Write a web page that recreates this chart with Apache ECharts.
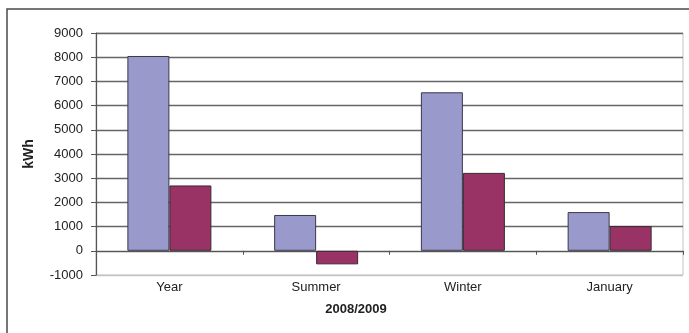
<!DOCTYPE html>
<html><head><meta charset="utf-8">
<script src="https://cdn.jsdelivr.net/npm/echarts@6/dist/echarts.min.js"></script>
<style>html,body{margin:0;padding:0;background:#fff}#c{width:689px;height:333px}</style>
</head><body><div id="c"></div>
<script>
var categories = ['Year', 'Summer', 'Winter', 'January'];
var seriesA = [8050, 1480, 6550, 1600];
var seriesB = [2700, -560, 3220, 1020];
var yTicks = { min: -1000, max: 9000, interval: 1000 };
var xAxisName = '2008/2009';
var yAxisName = 'kWh';

var chart = echarts.init(document.getElementById('c'), null, { renderer: 'canvas' });
var gridColors = ['#c4c4c4'];
for (var i = 0; i < 10; i++) gridColors.push('#666666');
chart.setOption({
  animation: false,
  textStyle: { fontFamily: 'Liberation Sans, Arial, sans-serif' },
  graphic: [{
    type: 'rect', shape: { x: 7, y: 9, width: 700, height: 340 },
    style: { fill: 'none', stroke: '#4a4a4a', lineWidth: 1.5 }, z: -1
  }],
  grid: { left: 96, right: 6, top: 33, bottom: 58, show: true, borderColor: '#c4c4c4', borderWidth: 1,
          containLabel: false, outerBoundsMode: 'none' },
  xAxis: {
    type: 'category', data: categories,
    axisLine: { onZero: true, lineStyle: { color: '#555', width: 1.2 } },
    axisTick: { show: true, length: 4, lineStyle: { color: '#555' } },
    axisLabel: { margin: 6, fontSize: 13, color: '#222' },
    name: xAxisName, nameLocation: 'middle', nameGap: 28,
    nameTextStyle: { fontWeight: 'bold', fontSize: 13, color: '#222', padding: [0, 67, 0, 0] }
  },
  yAxis: {
    type: 'value', min: yTicks.min, max: yTicks.max, interval: yTicks.interval,
    axisLine: { show: true, lineStyle: { color: '#555', width: 1.2 } },
    axisTick: { show: true, length: 5, lineStyle: { color: '#555' } },
    axisLabel: { margin: 13, fontSize: 13, color: '#222', formatter: function (v) { return String(v); } },
    splitLine: { lineStyle: { color: gridColors, width: 1.4 } },
    name: yAxisName, nameLocation: 'middle', nameGap: 60, nameRotate: 90,
    nameTextStyle: { fontWeight: 'bold', fontSize: 14, color: '#222' }
  },
  series: [
    { type: 'bar', data: seriesA, barWidth: 42, barGap: '0%',
      itemStyle: { color: '#9999cc', borderColor: '#3a3a4a', borderWidth: 1 } },
    { type: 'bar', data: seriesB, barWidth: 42,
      itemStyle: { color: '#993366', borderColor: '#3a2a30', borderWidth: 1 } }
  ]
});
</script></body></html>
